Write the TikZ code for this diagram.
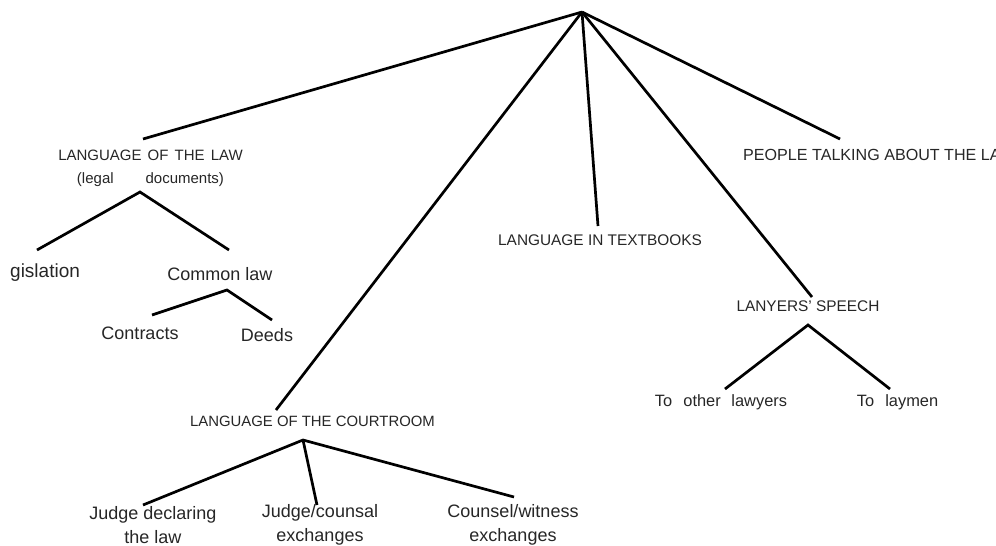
\documentclass[tikz,border=0pt]{standalone}
\usepackage{fontspec}
\setmainfont{Liberation Sans}
\begin{document}
\begin{tikzpicture}[x=1pt,y=-1pt,
  conn/.style={line width=2.7pt,line cap=butt},
  caps/.style={inner sep=0pt,font=\fontsize{15.2}{18}\selectfont,text=black!85},
  low/.style={inner sep=0pt,font=\fontsize{18}{24}\selectfont,align=center,text=black!85}]
\useasboundingbox (0,0) rectangle (996,546);
\clip (0,0) rectangle (996,546);
% coordinates (apexes and line ends)
\coordinate (root) at (582,12);
\coordinate (lawtop) at (143,139);
\coordinate (courttop) at (276,410);
\coordinate (booktop) at (598,226);
\coordinate (lanytop) at (812,297);
\coordinate (peopletop) at (840,139);
\coordinate (lawbot) at (140,192);
\coordinate (legtop) at (37,250);
\coordinate (comtop) at (229,250);
\coordinate (combot) at (227,290);
\coordinate (contop) at (152,315);
\coordinate (deedtop) at (272,320);
\coordinate (courtbot) at (303,440);
\coordinate (j1top) at (143,505);
\coordinate (j2top) at (317,505);
\coordinate (j3top) at (514,497);
\coordinate (lanybot) at (808,325);
\coordinate (othtop) at (725,389);
\coordinate (laytop) at (890,389);
% labels
\node[caps,font=\fontsize{15}{18}\selectfont] (law) at (150.5,155) {LANGUAGE\hspace{0.13em} OF\hspace{0.13em} THE\hspace{0.13em} LAW};
\node[caps,font=\fontsize{15}{18}\selectfont] (legal) at (150.5,180) {(legal\hspace{2.13em}documents)};
\node[low,anchor=west,font=\fontsize{19}{24}\selectfont] (leg) at (10,273) {gislation};
\node[low] (com) at (220,274) {Common law};
\node[low] (con) at (140,333) {Contracts};
\node[low] (deed) at (267,335) {Deeds};
\node[caps,font=\fontsize{14.9}{18}\selectfont] (court) at (312.5,421) {LANGUAGE OF THE COURTROOM};
\node[caps,font=\fontsize{15.4}{18}\selectfont] (book) at (600,240) {LANGUAGE IN TEXTBOOKS};
\node[caps,font=\fontsize{15.4}{18}\selectfont] (lany) at (808,306) {LANYERS' SPEECH};
\node[caps,anchor=west,font=\fontsize{16.1}{18}\selectfont] (people) at (743,155) {PEOPLE TALKING ABOUT THE LAW};
\node[low,font=\fontsize{16.4}{22}\selectfont] (oth) at (721,402) {To\hspace{0.68em}other\hspace{0.65em}lawyers};
\node[low,font=\fontsize{16.4}{22}\selectfont] (lay) at (897.5,402) {To\hspace{0.68em}laymen};
\node[low] (j1) at (153,525) {Judge declaring\\the law};
\node[low] (j2) at (320,525) {Judge/counsal\\exchanges};
\node[low] (j3) at (513,525) {Counsel/witness\\exchanges};
% connectors
\draw[conn] (root) -- (lawtop);
\draw[conn] (root) -- (courttop);
\draw[conn] (root) -- (booktop);
\draw[conn] (root) -- (lanytop);
\draw[conn] (root) -- (peopletop);
\draw[conn] (legtop) -- (lawbot) -- (comtop);
\draw[conn] (contop) -- (combot) -- (deedtop);
\draw[conn] (j1top) -- (courtbot) -- (j3top);
\draw[conn] (courtbot) -- (j2top);
\draw[conn] (othtop) -- (lanybot) -- (laytop);
\end{tikzpicture}
\end{document}
